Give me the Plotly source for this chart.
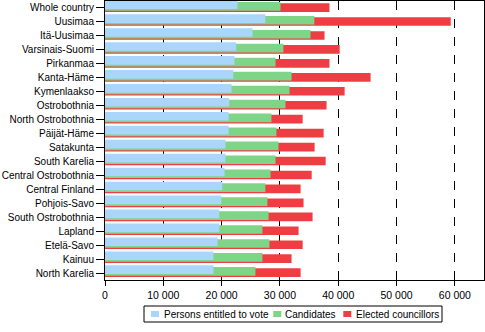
import plotly.graph_objects as go

regions = ["Whole country", "Uusimaa", "Itä-Uusimaa", "Varsinais-Suomi", "Pirkanmaa",
           "Kanta-Häme", "Kymenlaakso", "Ostrobothnia", "North Ostrobothnia", "Päijät-Häme",
           "Satakunta", "South Karelia", "Central Ostrobothnia", "Central Finland", "Pohjois-Savo",
           "South Ostrobothnia", "Lapland", "Etelä-Savo", "Kainuu", "North Karelia"]
persons_entitled = [22700, 27500, 25300, 22500, 22200, 22000, 21700, 21300, 21200, 21200,
                    20650, 20650, 20500, 20100, 19950, 19600, 19600, 19300, 18600, 18600]
candidates = [30100, 35900, 35250, 30600, 29250, 32000, 31650, 30950, 28550, 29400,
              29750, 29250, 28400, 27500, 27850, 28050, 27000, 28200, 27000, 25800]
elected = [38500, 59300, 37650, 40250, 38500, 45550, 41100, 38000, 33900, 37500,
           35950, 37850, 35450, 33550, 34050, 35600, 33200, 33900, 32000, 33550]

C_BLUE, C_GREEN, C_RED = "#AAD6FC", "#7ED587", "#EF3E43"

series = [
    ("Elected councillors", elected, C_RED, -0.34),
    ("Candidates", candidates, C_GREEN, -0.43),
    ("Persons entitled to vote", persons_entitled, C_BLUE, -0.55),
]

fig = go.Figure()
for name, vals, color, off in series:
    fig.add_trace(go.Bar(
        y=regions, x=vals, orientation="h", name=name,
        marker=dict(color=color, line=dict(width=0)),
        offset=off, width=0.62, showlegend=False,
    ))

# compact legend (box, swatches, labels) in paper coordinates
W_PLOT, H_PLOT, L, T = 379.0, 279.0, 105.0, 1.0
def px(x):
    return (x - L) / W_PLOT
def py(y):
    return (T + H_PLOT - y) / H_PLOT

shapes = [dict(type="rect", xref="paper", yref="paper", x0=px(144), x1=px(442),
               y0=py(322), y1=py(306), line=dict(color="black", width=1), fillcolor="white")]
legend_items = [("Persons entitled to vote", C_BLUE, 151, 162.5),
                ("Candidates", C_GREEN, 273.3, 284),
                ("Elected councillors", C_RED, 343.3, 354.5)]
annotations = []
for label, color, sx, tx in legend_items:
    shapes.append(dict(type="rect", xref="paper", yref="paper", x0=px(sx), x1=px(sx + 8),
                       y0=py(317), y1=py(311), line=dict(width=0), fillcolor=color))
    annotations.append(dict(text=label, xref="paper", yref="paper", x=px(tx), y=py(314.5),
                            xanchor="left", yanchor="middle", showarrow=False, borderpad=0,
                            font=dict(size=10, color="black")))

fig.update_layout(
    width=485, height=332,
    margin=dict(l=105, r=1, t=1, b=52),
    barmode="overlay",
    plot_bgcolor="white", paper_bgcolor="white",
    separators=". ",
    font=dict(family="Liberation Sans, Arial, sans-serif", size=10.5, color="black"),
    showlegend=False,
    shapes=shapes,
    annotations=annotations,
    xaxis=dict(range=[0, 65000], tickvals=[0, 10000, 20000, 30000, 40000, 50000, 60000],
               tickformat=",d", showgrid=True, gridcolor="black", griddash="dash", gridwidth=1,
               zeroline=False, showline=True, linecolor="black", linewidth=1, mirror=True,
               ticks="outside", ticklen=5, tickcolor="black", tickfont=dict(size=10.5),
               automargin=False),
    yaxis=dict(range=[19.5, -0.5], showgrid=False, showline=True, linecolor="black",
               linewidth=1, mirror=True, ticks="outside", ticklen=8, tickcolor="black",
               ticklabelstandoff=0, tickfont=dict(size=10), automargin=False),
)

fig.write_html("out.html")
